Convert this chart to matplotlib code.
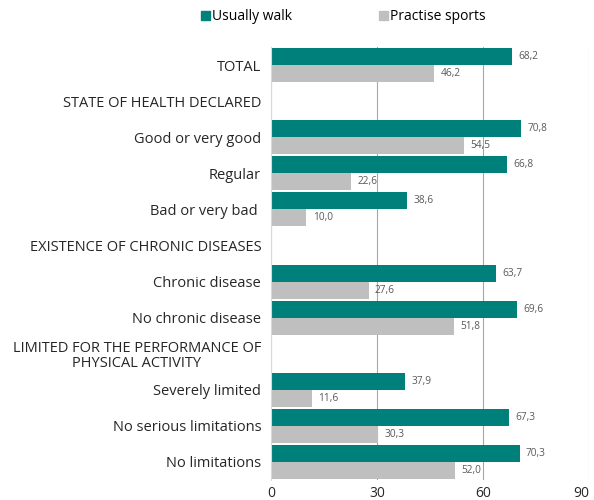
import numpy as np
import matplotlib.pyplot as plt

plt.rcParams['font.family'] = ['Open Sans', 'DejaVu Sans']

# Categories from top to bottom; section headers have no values
categories = [
    'TOTAL',
    'STATE OF HEALTH DECLARED',
    'Good or very good',
    'Regular',
    'Bad or very bad ',
    'EXISTENCE OF CHRONIC DISEASES',
    'Chronic disease',
    'No chronic disease',
    'LIMITED FOR THE PERFORMANCE OF\nPHYSICAL ACTIVITY',
    'Severely limited',
    'No serious limitations',
    'No limitations',
]
walk = [68.2, None, 70.8, 66.8, 38.6, None, 63.7, 69.6, None, 37.9, 67.3, 70.3]
sports = [46.2, None, 54.5, 22.6, 10.0, None, 27.6, 51.8, None, 11.6, 30.3, 52.0]

teal = '#00807b'
grey = '#bfbfbf'

fig = plt.figure(figsize=(5.94, 5.0), dpi=100)
ax = fig.add_axes([0.456, 0.04, 0.536, 0.866])

y = np.arange(len(categories))
h = 0.47

def fmt(v):
    return f'{v:.1f}'.replace('.', ',')

for i, (w, s) in enumerate(zip(walk, sports)):
    if w is None:
        continue
    ax.barh(i - h / 2, w, height=h, color=teal, zorder=3)
    ax.barh(i + h / 2, s, height=h, color=grey, zorder=3)
    ax.text(w + 1.8, i - h / 2, fmt(w), va='center', ha='left',
            fontsize=7.3, color='#595959')
    ax.text(s + 1.8, i + h / 2, fmt(s), va='center', ha='left',
            fontsize=7.3, color='#595959')

ax.set_ylim(len(categories) - 0.5, -0.5)
ax.set_xlim(0, 90)
ax.set_xticks([0, 30, 60, 90])
ax.set_yticks(y)
ax.set_yticklabels(categories, fontsize=10.5, color='#262626',
                   multialignment='center', linespacing=1.0)
ax.tick_params(axis='y', length=0, pad=7)
ax.tick_params(axis='x', length=0, labelsize=10, labelcolor='#262626', pad=4)
# keep the last tick label inside the figure
ax.get_xticklabels()[-1].set_horizontalalignment('right')

ax.grid(axis='x', color='#a6a6a6', linewidth=0.8, zorder=0)
for side in ['top', 'right', 'bottom']:
    ax.spines[side].set_visible(False)
ax.spines['left'].set_color('#d9d9d9')
ax.spines['left'].set_zorder(4)

handles = [plt.Rectangle((0, 0), 1, 1, color=teal),
           plt.Rectangle((0, 0), 1, 1, color=grey)]
fig.legend(handles, ['Usually walk', 'Practise sports'], loc='center',
           bbox_to_anchor=(0.578, 0.966), ncol=2, frameon=False,
           fontsize=10, handlelength=0.6, handleheight=0.6,
           handletextpad=0.15, columnspacing=6.3)

fig.savefig('out.png', dpi=100)
